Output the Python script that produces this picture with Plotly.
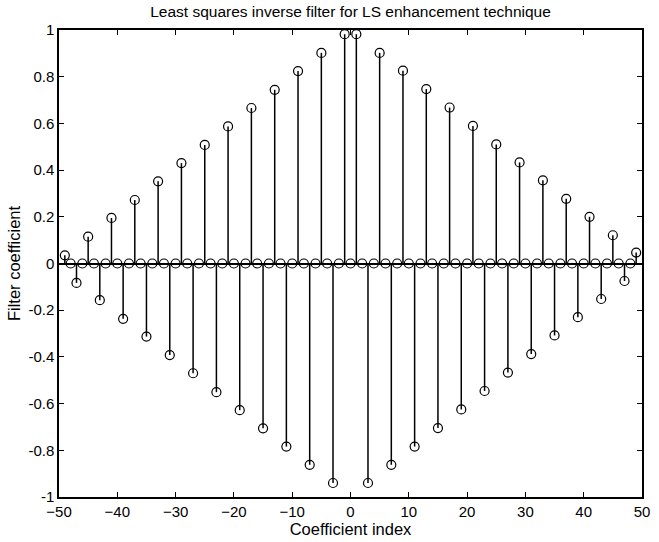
import plotly.graph_objects as go

# Coefficient indices (-49 .. 49)
indices = list(range(-49, 50))

# Filter coefficients (even indices are zero)
coefficients = [
    0.035, 0, -0.083, 0, 0.115, 0, -0.157, 0, 0.195, 0,
    -0.237, 0, 0.272, 0, -0.313, 0, 0.352, 0, -0.392, 0,
    0.430, 0, -0.470, 0, 0.508, 0, -0.551, 0, 0.587, 0,
    -0.628, 0, 0.666, 0, -0.706, 0, 0.744, 0, -0.784, 0,
    0.824, 0, -0.862, 0, 0.902, 0, -0.940, 0, 0.982, 0,
    0.982, 0, -0.940, 0, 0.902, 0, -0.862, 0, 0.826, 0,
    -0.784, 0, 0.747, 0, -0.705, 0, 0.668, 0, -0.625, 0,
    0.589, 0, -0.546, 0, 0.510, 0, -0.467, 0, 0.433, 0,
    -0.388, 0, 0.356, 0, -0.308, 0, 0.277, 0, -0.230, 0,
    0.200, 0, -0.152, 0, 0.121, 0, -0.075, 0, 0.047,
]

x_ticks = [-50, -40, -30, -20, -10, 0, 10, 20, 30, 40, 50]
y_ticks = [-1, -0.8, -0.6, -0.4, -0.2, 0, 0.2, 0.4, 0.6, 0.8, 1]
y_tick_text = ["-1", "-0.8", "-0.6", "-0.4", "-0.2", "0", "0.2", "0.4", "0.6", "0.8", "1"]

stem_x, stem_y = [], []
for xi, yi in zip(indices, coefficients):
    stem_x += [xi, xi, None]
    stem_y += [0, yi, None]

FONT = "Liberation Sans, Arial, Helvetica, sans-serif"

fig = go.Figure()
fig.add_trace(go.Scatter(x=stem_x, y=stem_y, mode="lines",
                         line=dict(color="black", width=1.5),
                         hoverinfo="skip", showlegend=False))
fig.add_trace(go.Scatter(x=indices, y=coefficients, mode="markers",
                         marker=dict(symbol="circle-open", size=9,
                                     color="black", line=dict(width=1.2)),
                         showlegend=False))

axis_common = dict(showgrid=False, showline=True, linecolor="black", linewidth=1.5,
                   mirror="ticks", ticks="inside", ticklen=5, tickwidth=1.2,
                   tickcolor="black", tickfont=dict(family=FONT, size=15, color="black"))

fig.update_layout(
    width=659, height=542,
    margin=dict(l=59, r=9, t=30, b=41),
    paper_bgcolor="white", plot_bgcolor="white",
    title=dict(text="Least squares inverse filter for LS enhancement technique",
               x=0.5, xref="paper", y=0.978, yref="container", yanchor="middle",
               font=dict(family=FONT, size=15.5, color="black")),
    xaxis=dict(range=[-50, 50], tickvals=x_ticks, zeroline=False,
               title=dict(text="Coefficient index", standoff=2,
                          font=dict(family=FONT, size=16.5, color="black")),
               **axis_common),
    yaxis=dict(range=[-1, 1], tickvals=y_ticks, ticktext=y_tick_text,
               zeroline=True, zerolinecolor="black", zerolinewidth=1.5,
               title=dict(text="Filter coefficient", standoff=4,
                          font=dict(family=FONT, size=16.5, color="black")),
               **axis_common),
)

fig.write_html("out.html")
